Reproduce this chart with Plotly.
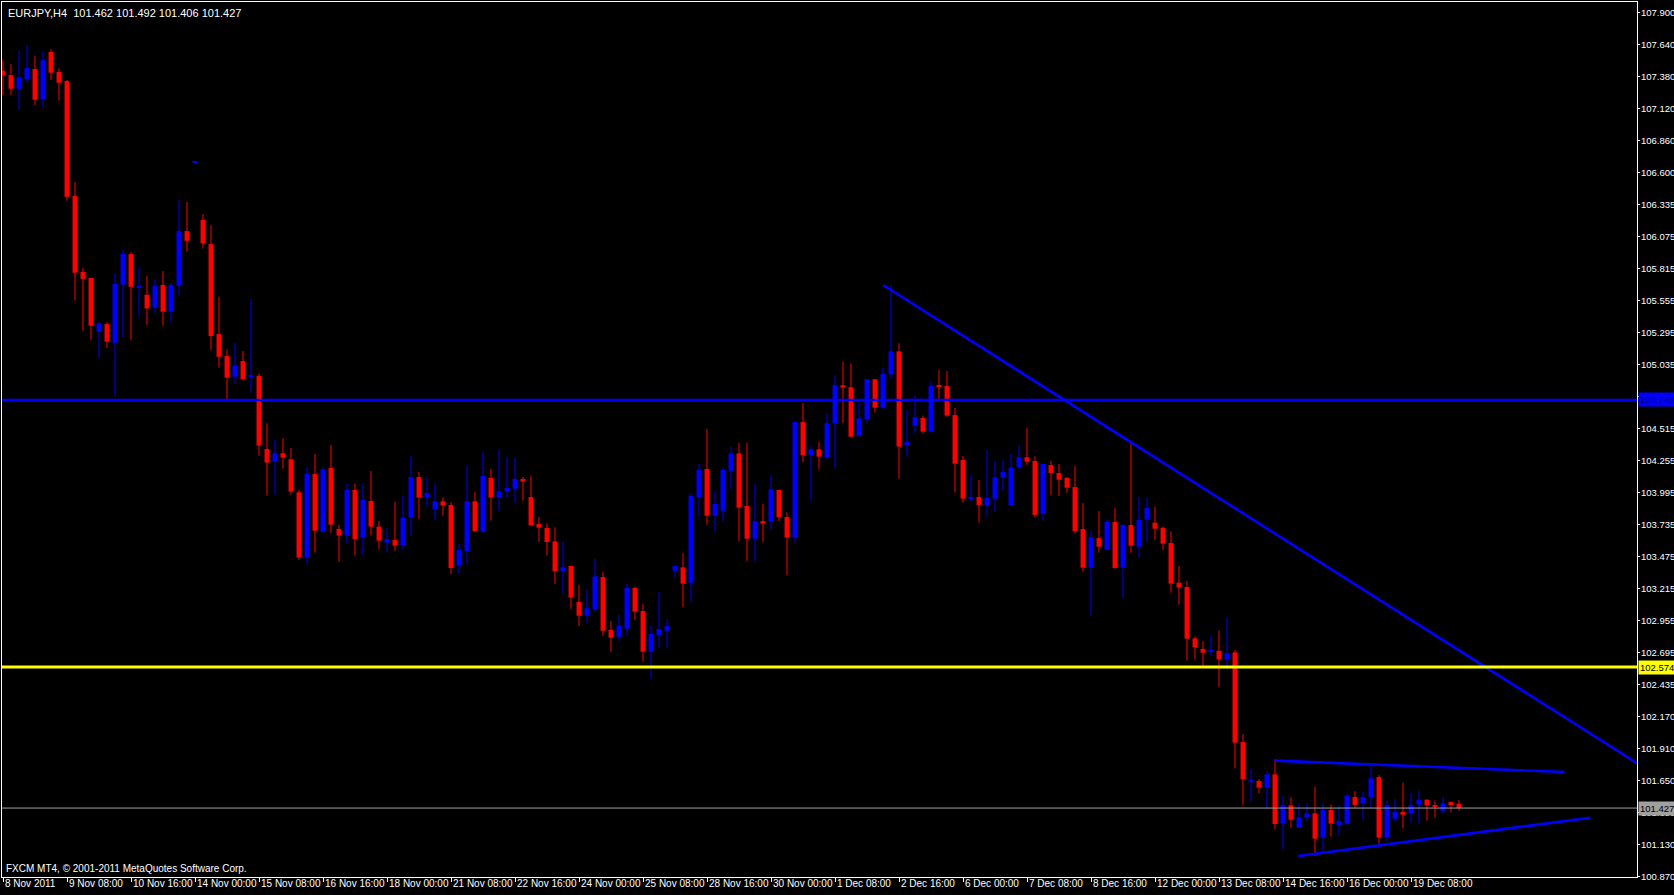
import plotly.graph_objects as go

# ---- data (EURJPY H4 candles, index 0 = 8 Nov 2011) ----
opens = [107.427,107.391,107.280,107.359,107.440,107.196,107.579,107.416,107.343,106.407,
105.789,105.740,105.303,105.365,105.214,105.686,105.935,105.666,105.604,105.498,
105.683,105.466,105.677,106.122,106.679,106.212,106.016,105.284,105.105,104.937,
105.064,104.937,104.943,104.349,104.246,104.314,104.265,103.996,103.465,104.145,
103.676,104.194,103.698,103.644,104.015,103.627,103.926,103.717,103.587,103.608,
103.562,103.790,104.121,103.953,103.858,103.923,103.893,103.400,103.519,103.923,
103.676,104.113,103.953,104.002,104.026,104.105,103.958,103.738,103.706,103.597,
103.356,103.397,103.104,102.992,103.047,103.307,102.876,102.821,102.887,103.218,
103.030,102.699,102.835,102.870,103.359,103.386,103.261,103.955,104.186,103.806,
103.847,104.172,104.313,103.885,103.619,103.762,103.757,104.015,103.795,103.627,
104.568,104.300,104.346,104.278,104.558,104.867,104.851,104.457,104.590,104.916,
104.685,104.956,105.143,104.379,104.539,104.601,104.490,104.870,104.861,104.625,
104.259,103.942,103.958,103.893,103.945,104.115,103.887,104.202,104.281,104.251,
103.822,104.218,104.153,104.113,104.039,103.698,103.383,103.624,103.529,103.755,
103.383,103.730,103.554,103.776,103.749,103.708,103.584,103.261,103.226,102.808,
102.721,102.702,102.707,102.639,102.694,101.964,101.644,101.647,101.593,101.701,
101.302,101.449,101.267,101.351,101.384,101.189,101.411,101.289,101.300,101.517,
101.465,101.514,101.679,101.186,101.340,101.395,101.384,101.454,101.495,101.452,
101.405,101.476,101.462]
highs = [107.513,107.481,107.590,107.636,107.546,107.581,107.601,107.446,107.351,106.521,
105.821,105.740,105.387,105.381,105.777,105.975,105.951,105.821,105.756,105.729,
105.797,105.702,106.374,106.358,106.695,106.260,106.171,105.588,105.159,105.214,
105.146,105.569,104.964,104.558,104.422,104.436,104.357,104.015,104.200,104.308,
104.200,104.381,103.730,104.064,104.069,104.069,104.170,103.763,103.703,103.920,
103.969,104.292,104.162,104.113,104.069,103.955,103.915,103.576,104.219,103.999,
104.324,104.186,104.349,104.286,104.273,104.121,104.129,103.795,103.744,103.711,
103.600,103.397,103.242,103.209,103.454,103.350,102.949,102.998,103.250,103.228,
103.087,102.916,103.185,102.965,103.397,103.502,103.988,104.227,104.511,103.999,
104.200,104.368,104.400,104.400,104.064,103.901,104.129,104.020,103.833,104.568,
104.723,104.373,104.406,104.642,104.948,105.057,105.046,104.734,104.916,104.916,
105.008,105.683,105.209,104.666,104.783,104.620,104.894,104.992,104.984,104.682,
104.292,104.129,104.097,104.341,104.251,104.259,104.308,104.381,104.519,104.289,
104.227,104.251,104.227,104.121,104.210,103.909,103.679,103.844,103.771,103.868,
103.738,104.395,103.961,103.950,103.879,103.717,103.681,103.397,103.274,102.822,
102.786,102.827,102.870,102.979,102.713,102.029,101.745,101.663,101.728,101.823,
101.525,101.514,101.465,101.465,101.601,101.465,101.457,101.446,101.541,101.565,
101.560,101.772,101.696,101.487,101.500,101.633,101.552,101.568,101.498,101.487,
101.517,101.479,101.492]
lows = [107.229,107.229,107.112,107.329,107.148,107.126,107.351,107.183,106.369,105.555,
105.311,105.235,105.094,105.176,104.780,105.257,105.235,105.425,105.358,105.457,
105.352,105.376,105.602,105.954,106.676,105.981,105.154,105.010,104.752,104.883,
104.905,104.807,104.294,103.969,103.977,104.189,103.977,103.446,103.420,103.505,
103.668,103.663,103.430,103.581,103.481,103.486,103.644,103.535,103.513,103.521,
103.535,103.644,103.779,103.880,103.771,103.806,103.330,103.330,103.420,103.674,
103.668,103.766,103.844,103.953,103.912,103.928,103.720,103.592,103.481,103.250,
103.169,103.047,102.908,102.936,103.020,102.827,102.696,102.789,102.830,102.957,
102.620,102.480,102.726,102.732,103.302,103.063,103.106,103.798,103.733,103.676,
103.763,104.015,103.600,103.437,103.432,103.594,103.689,103.765,103.323,103.586,
104.243,103.928,104.186,104.267,104.194,104.558,104.441,104.449,104.563,104.645,
104.672,104.921,104.107,104.287,104.476,104.474,104.482,104.756,104.609,103.994,
103.912,103.920,103.750,103.798,103.839,104.007,103.887,104.186,104.218,103.790,
103.766,103.974,103.966,103.993,103.660,103.351,102.992,103.505,103.529,103.375,
103.139,103.505,103.467,103.595,103.608,103.529,103.180,103.082,102.626,102.637,
102.585,102.667,102.414,102.550,101.750,101.452,101.479,101.546,101.424,101.254,
101.091,101.264,101.267,101.321,101.037,101.058,101.194,101.202,101.286,101.424,
101.335,101.424,101.132,101.154,101.321,101.259,101.308,101.302,101.324,101.348,
101.384,101.392,101.406]
closes = [107.391,107.280,107.372,107.448,107.191,107.513,107.411,107.329,106.401,105.783,
105.734,105.352,105.371,105.222,105.691,105.935,105.669,105.669,105.493,105.674,
105.466,105.683,106.122,106.043,106.687,106.022,105.268,105.099,104.929,105.029,
104.918,104.951,104.376,104.238,104.314,104.278,104.002,103.465,104.145,103.684,
104.183,103.733,103.644,104.015,103.616,103.934,103.717,103.603,103.616,103.562,
103.790,104.121,103.953,103.991,103.923,103.888,103.380,103.527,103.923,103.682,
104.129,103.953,104.004,104.031,104.105,104.083,103.727,103.708,103.592,103.356,
103.386,103.139,102.992,103.052,103.312,102.870,102.813,102.908,103.218,103.025,
102.699,102.843,102.884,102.908,103.397,103.253,103.966,104.178,103.806,103.901,
104.178,104.313,103.871,103.619,103.760,103.741,104.020,103.795,103.627,104.568,
104.300,104.346,104.287,104.558,104.867,104.848,104.449,104.598,104.916,104.685,
104.959,105.143,104.368,104.406,104.607,104.490,104.861,104.853,104.620,104.229,
103.945,103.958,103.893,103.950,104.118,104.161,104.199,104.281,104.246,103.812,
104.227,104.153,104.099,104.034,103.681,103.383,103.630,103.554,103.755,103.380,
103.730,103.562,103.771,103.868,103.700,103.578,103.253,103.223,102.805,102.734,
102.691,102.708,102.637,102.685,101.959,101.663,101.647,101.593,101.701,101.297,
101.449,101.332,101.351,101.384,101.178,101.411,101.300,101.321,101.525,101.452,
101.517,101.669,101.186,101.449,101.395,101.373,101.449,101.495,101.449,101.438,
101.465,101.452,101.427]

tick_idx = list(range(0, 184, 8))
tick_text = ["8 Nov 2011","9 Nov 08:00","10 Nov 16:00","14 Nov 00:00","15 Nov 08:00",
"16 Nov 16:00","18 Nov 00:00","21 Nov 08:00","22 Nov 16:00","24 Nov 00:00",
"25 Nov 08:00","28 Nov 16:00","30 Nov 00:00","1 Dec 08:00","2 Dec 16:00",
"6 Dec 00:00","7 Dec 08:00","8 Dec 16:00","12 Dec 00:00","13 Dec 08:00",
"14 Dec 16:00","16 Dec 00:00","19 Dec 08:00"]
price_ticks = [107.900,107.640,107.380,107.120,106.860,106.600,106.335,106.075,105.815,
105.555,105.295,105.035,104.775,104.515,104.255,103.995,103.735,103.475,103.215,
102.955,102.695,102.435,102.170,101.910,101.650,101.390,101.130,100.870]

level_blue = 104.748
level_yellow = 102.574
level_bid = 101.427
trend_down = ([110.0, 149.6], [105.683, 104.048])
tri_upper = ([158.9, 195.2], [101.813, 101.720])
tri_lower = ([161.9, 198.4], [101.037, 101.348])

XMIN, XMAX = -0.125, 204.25
YMIN, YMAX = 100.866, 107.986

RED, BLUE = "#FF0000", "#0000FF"
fig = go.Figure()

for up, col in [(True, BLUE), (False, RED)]:
    wx, wy, bx, bb, bh = [], [], [], [], []
    for i, (o, h, l, c) in enumerate(zip(opens, highs, lows, closes)):
        if (c >= o) != up:
            continue
        wx += [i, i, None]; wy += [l, h, None]
        bx.append(i); bb.append(min(o, c)); bh.append(max(abs(c - o), 0.009))
    fig.add_trace(go.Scatter(x=wx, y=wy, mode="lines", line=dict(color=col, width=1),
                             hoverinfo="skip", showlegend=False))
    fig.add_trace(go.Bar(x=bx, y=bh, base=bb, width=0.62, marker=dict(color=col, line=dict(width=0)),
                         showlegend=False, hoverinfo="skip"))

sx = (trend_down[1][1] - trend_down[1][0]) / (trend_down[0][1] - trend_down[0][0])
fig.add_trace(go.Scatter(x=[trend_down[0][0], XMAX],
                         y=[trend_down[1][0], trend_down[1][0] + sx * (XMAX - trend_down[0][0])],
                         mode="lines", line=dict(color=BLUE, width=2.6), showlegend=False, hoverinfo="skip"))
for tl in (tri_upper, tri_lower):
    fig.add_trace(go.Scatter(x=tl[0], y=tl[1], mode="lines", line=dict(color=BLUE, width=2.6),
                             showlegend=False, hoverinfo="skip"))

shapes = [
    dict(type="line", xref="paper", x0=0, x1=1, y0=level_blue, y1=level_blue, line=dict(color=BLUE, width=2.6)),
    dict(type="line", xref="paper", x0=0, x1=1, y0=level_yellow, y1=level_yellow, line=dict(color="#FFFF00", width=3)),
    dict(type="line", xref="paper", x0=0, x1=1, y0=level_bid, y1=level_bid, line=dict(color="#A0A0A0", width=1)),
]

font = "Liberation Sans"
ann = []
for t, s in zip(tick_idx, tick_text):
    ann.append(dict(x=t, y=0, xref="x", yref="paper", text=s, showarrow=False, xanchor="left",
                    yanchor="top", xshift=1, yshift=0, borderpad=0,
                    font=dict(color="white", size=10, family=font)))
for p in price_ticks:
    ann.append(dict(x=1, y=p, xref="paper", yref="y", text=f"{p:.3f}", showarrow=False, xanchor="left",
                    yanchor="middle", xshift=3, borderpad=0, font=dict(color="white", size=9.5, family=font)))
for lv, bg, fc in [(level_blue, BLUE, "#000080"), (level_yellow, "#FFFF00", "black"), (level_bid, "#A0A0A0", "black")]:
    ann.append(dict(x=1, y=lv, xref="paper", yref="y", text=f"{lv:.3f}", showarrow=False, xanchor="left",
                    yanchor="middle", xshift=1, bgcolor=bg, borderpad=1,
                    font=dict(color=fc, size=9.5, family=font)))
ann.append(dict(x=0, y=1, xref="paper", yref="paper", xanchor="left", yanchor="top", xshift=4, yshift=-3,
                text="EURJPY,H4  101.462 101.492 101.406 101.427", showarrow=False,
                font=dict(color="white", size=11, family=font)))
ann.append(dict(x=0, y=0, xref="paper", yref="paper", xanchor="left", yanchor="bottom", xshift=2, yshift=1,
                text="FXCM MT4, © 2001-2011 MetaQuotes Software Corp.", showarrow=False,
                font=dict(color="white", size=10, family=font)))

fig.update_layout(
    width=1674, height=895, paper_bgcolor="black", plot_bgcolor="black",
    margin=dict(l=2, r=37, t=2, b=18), barmode="overlay", showlegend=False,
    shapes=shapes, annotations=ann,
    xaxis=dict(range=[XMIN, XMAX], showgrid=False, zeroline=False, showline=True, mirror=True,
               linecolor="white", linewidth=1, tickvals=tick_idx, ticktext=[""] * len(tick_idx),
               ticks="outside", ticklen=4, tickcolor="white", fixedrange=True),
    yaxis=dict(range=[YMIN, YMAX], side="right", showgrid=False, zeroline=False, showline=True, mirror=True,
               linecolor="white", linewidth=1, tickvals=price_ticks, ticktext=[""] * len(price_ticks),
               ticks="outside", ticklen=2, tickcolor="white", fixedrange=True),
)
fig.write_html("out.html", config={"displayModeBar": False},
               post_script="document.body.style.margin='0';document.body.style.overflow='hidden';document.body.style.background='black';")
